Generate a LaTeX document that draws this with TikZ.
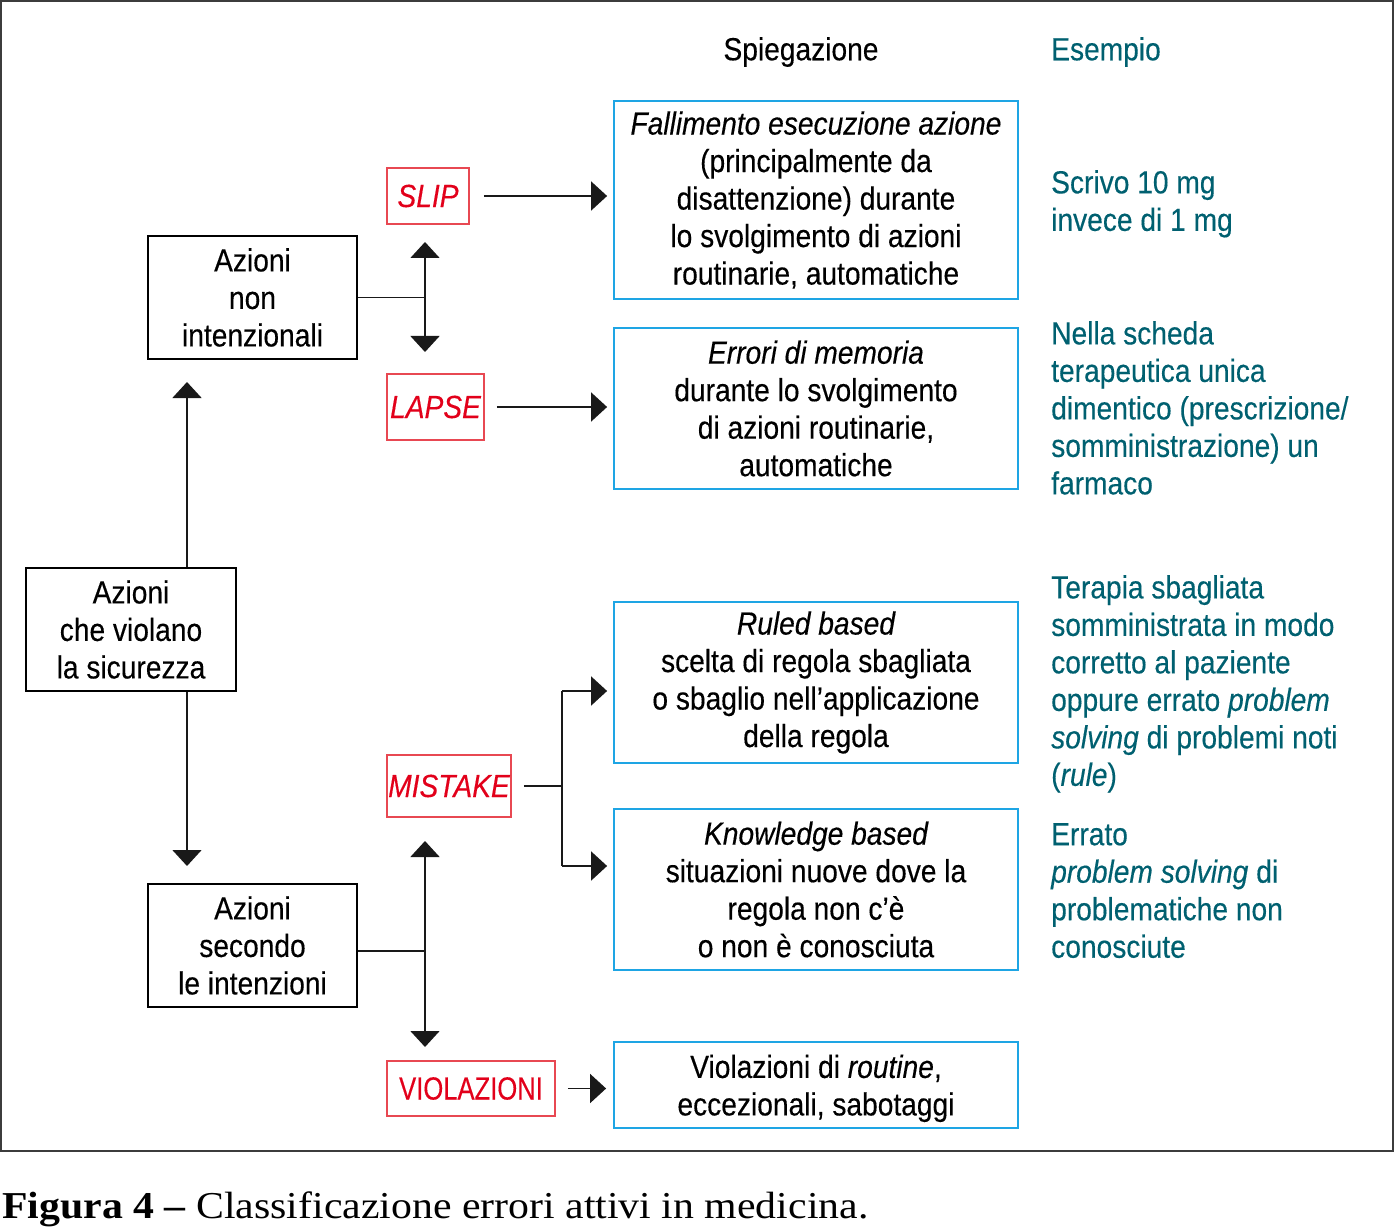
\documentclass[tikz,border=0pt]{standalone}
\usepackage{fontspec}
\setmainfont{Liberation Serif}
\newfontfamily\cond[FakeStretch=0.88,FakeBold=0.3]{Liberation Sans}
\newfontfamily\capfont[FakeStretch=1.1]{Liberation Serif}
\usetikzlibrary{arrows.meta,calc}
\definecolor{redtxt}{RGB}{226,0,26}
\definecolor{redbrd}{RGB}{232,72,82}
\definecolor{bluebrd}{RGB}{30,165,228}
\definecolor{extea}{RGB}{0,96,112}
\definecolor{framegray}{RGB}{60,60,60}
\tikzset{
  txt/.style={font=\cond\fontsize{32}{37.5}\selectfont, inner sep=0pt},
  bluebox/.style={txt, draw=bluebrd, line width=1.8pt, minimum width=404pt, align=center},
  blackbox/.style={txt, draw=black, line width=1.5pt, align=center},
  redbox/.style={txt, draw=redbrd, line width=1.6pt, text=redtxt},
  exampletxt/.style={txt, text=extea, align=left, anchor=north west},
  conn/.style={draw=black!90, line width=1.6pt},
  arr/.style={conn, -{Triangle[length=16pt,width=29pt]}},
  darr/.style={conn, {Triangle[length=16pt,width=29pt]}-{Triangle[length=16pt,width=29pt]}},
}
\begin{document}
\begin{tikzpicture}[x=1pt,y=-1pt]
\useasboundingbox (0,0) rectangle (1394,1230);
\draw[framegray, line width=1.5pt] (1,1) rectangle (1393,1151);

% headers
\node[txt] (hspieg) at (801,52) {Spiegazione};
\node[txt, text=extea, anchor=west] (hesem) at (1051,52) {Esempio};

% blue boxes
\node[bluebox, minimum height=198pt] (b1) at (816,200) {\itshape Fallimento esecuzione azione\\(principalmente da\\disattenzione) durante\\lo svolgimento di azioni\\routinarie, automatiche};
\node[bluebox, minimum height=161pt] (b2) at (816,408.5) {\itshape Errori di memoria\\durante lo svolgimento\\di azioni routinarie,\\automatiche};
\node[bluebox, minimum height=161pt] (b3) at (816,682.5) {\itshape Ruled based\\scelta di regola sbagliata\\o sbaglio nell’applicazione\\della regola};
\node[bluebox, minimum height=161pt] (b4) at (816,889.5) {\itshape Knowledge based\\situazioni nuove dove la\\regola non c’è\\o non è conosciuta};
\node[bluebox, minimum height=86pt] (b5) at (816,1085) {\rule{0pt}{30pt}Violazioni di \textit{routine},\\eccezionali, sabotaggi};

% black boxes
\node[blackbox, minimum width=209pt, minimum height=123pt] (nonint) at (252.5,297.5) {Azioni\\non\\intenzionali};
\node[blackbox, minimum width=210pt, minimum height=123pt] (sic) at (131,629.5) {Azioni\\che violano\\la sicurezza};
\node[blackbox, minimum width=209pt, minimum height=123pt] (sec) at (252.5,945.5) {Azioni\\secondo\\le intenzioni};

% red boxes
\node[redbox, minimum width=82pt, minimum height=56pt] (slip) at (428,196) {\itshape SLIP};
\node[redbox, minimum width=97pt, minimum height=66pt] (lapse) at (435.5,407) {\itshape LAPSE};
\node[redbox, minimum width=124pt, minimum height=62pt] (mistake) at (449,786) {\itshape MISTAKE};
\node[redbox, minimum width=168pt, minimum height=55pt] (viol) at (471,1088.5) {\addfontfeature{FakeStretch=0.8}VIOLAZIONI};

% examples
\node[exampletxt] (e1) at (1051,170) {Scrivo 10 mg\\invece di 1 mg};
\node[exampletxt] (e2) at (1051,321) {Nella scheda\\terapeutica unica\\dimentico (prescrizione/\\somministrazione) un\\farmaco};
\node[exampletxt] (e3) at (1051,575) {Terapia sbagliata\\somministrata in modo\\corretto al paziente\\oppure errato \textit{problem}\\\textit{solving} di problemi noti\\(\textit{rule})};
\node[exampletxt] (e4) at (1051,823) {Errato\\\textit{problem solving} di\\problematiche non\\conosciute};

% coordinates
\coordinate (upTip) at (187,382);
\coordinate (downTip) at (187,866);
\coordinate (jA) at (425,297.5);
\coordinate (jAup) at (425,242);
\coordinate (jAdn) at (425,352);
\coordinate (jB) at (425,951);
\coordinate (jBup) at (425,841);
\coordinate (jBdn) at (425,1047);
\coordinate (m1) at (562,691);
\coordinate (m2) at (562,866);

% connectors
\draw[arr] (upTip |- sic.north) -- (upTip);
\draw[arr] (downTip |- sic.south) -- (downTip);
\draw[conn] (jA -| nonint.east) -- (jA);
\draw[darr] (jAup) -- (jAdn);
\draw[conn] (jB -| sec.east) -- (jB);
\draw[darr] (jBup) -- (jBdn);
\draw[arr, shorten >=6pt] ([xshift=14pt]slip.east) -- (slip.east -| b1.west);
\draw[arr, shorten >=6pt] ([xshift=12pt]lapse.east) -- (lapse.east -| b2.west);
\draw[conn] ([xshift=12pt]mistake.east) -- (mistake.east -| m1);
\draw[conn] (m1) -- (m2);
\draw[arr, shorten >=6pt] (m1) -- (m1 -| b3.west);
\draw[arr, shorten >=6pt] (m2) -- (m2 -| b4.west);
\draw[arr, shorten >=7pt] ([xshift=12pt]viol.east) -- (viol.east -| b5.west);

% caption
\node[font=\capfont\fontsize{38}{44}\selectfont, inner sep=0pt, anchor=base west] (cap) at (2,1218) {\textbf{Figura 4 –} Classificazione errori attivi in medicina.};
\end{tikzpicture}
\end{document}
